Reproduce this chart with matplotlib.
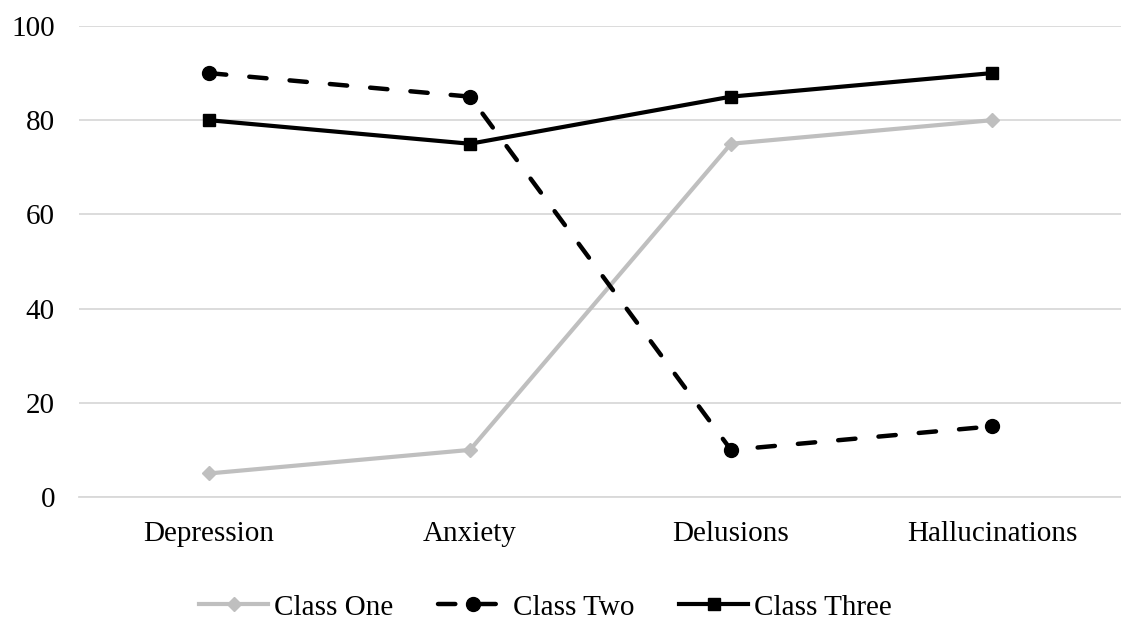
import matplotlib
matplotlib.use("Agg")
import matplotlib.pyplot as plt

categories = ["Depression", "Anxiety", "Delusions", "Hallucinations"]
class_one = [5, 10, 75, 80]
class_two = [90, 85, 10, 15]
class_three = [80, 75, 85, 90]
y_ticks = [0, 20, 40, 60, 80, 100]

plt.rcParams["font.family"] = ["Liberation Serif", "DejaVu Serif"]
plt.rcParams["font.size"] = 21

fig = plt.figure(figsize=(11.21, 6.21), dpi=100)
ax = fig.add_axes([78.5 / 1121, 124 / 621, 1044 / 1121, 471 / 621])

x = range(len(categories))
ax.plot(x, class_one, color="#bfbfbf", linewidth=3.0, marker="D",
        markersize=7.5, label="Class One", zorder=3)
ax.plot(x, class_two, color="black", linewidth=3.2, linestyle=(0, (3.9, 5.2)),
        dash_capstyle="round", marker="o", markersize=10,
        label="Class Two", zorder=4)
ax.plot(x, class_three, color="black", linewidth=3.0, marker="s",
        markersize=8.5, label="Class Three", zorder=5)

ax.set_xlim(-0.5, len(categories) - 0.5)
ax.set_ylim(0, 100)
ax.set_xticks(list(x))
ax.set_xticklabels(categories)
ax.set_yticks(y_ticks)
ax.yaxis.grid(True, color="#d9d9d9", linewidth=1.3)
ax.set_axisbelow(True)
for side in ["top", "right", "left"]:
    ax.spines[side].set_visible(False)
ax.spines["bottom"].set_color("#d9d9d9")
ax.spines["bottom"].set_linewidth(1.3)
ax.tick_params(axis="y", length=0, pad=17)
ax.tick_params(axis="x", length=0, pad=17)

fig.legend(loc="center", bbox_to_anchor=(0.4866, 0.022), ncol=3, frameon=False,
           handlelength=2.35, handletextpad=0.2, columnspacing=1.55,
           borderaxespad=0, borderpad=0)

fig.savefig("out.png", dpi=100)
